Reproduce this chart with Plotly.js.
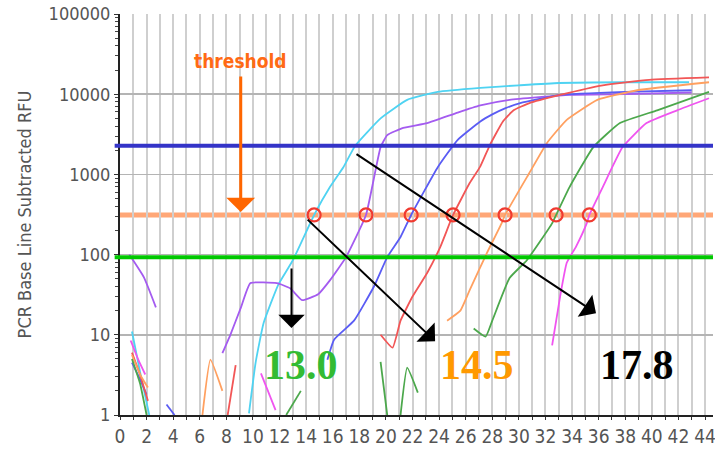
<!DOCTYPE html>
<html>
<head>
<meta charset="utf-8">
<script src="https://cdn.plot.ly/plotly-3.0.1.min.js"></script>
<style>html,body{margin:0;padding:0;background:#fff;}#chart{width:715px;height:457px;}</style>
</head>
<body>
<div id="chart"></div>
<script>
// ---- data (cycles and RFU) ----
var cyanCycles = [0.9, 1.5, 2.2, null, 9.7, 10.2, 10.8, 11.9, 13.0, 14.6, 15.8, 16.8, 17.7, 19.6, 21.6, 23.9, 27.1, 30.0, 33.0, 38.0, 42.8];
var cyanRFU    = [11, 3.5, 1, null, 1.05, 4.5, 14, 42, 85, 312, 700, 1230, 2290, 5000, 8500, 10700, 12000, 12900, 13800, 14100, 14100];

var purpleCycles = [0.7, 1.8, 2.7, null, 7.7, 8.3, 9.1, 9.8, 11.8, 12.8, 13.7, 14.9, 15.8, 17.0, 18.5, 19.6, 20.1, 21.3, 23.1, 25.4, 27.1, 29.3, 33.8, 38.0, 43.0];
var purpleRFU    = [100, 52, 22, null, 5.9, 10, 22, 44, 44, 38, 27, 32, 48, 93, 312, 2190, 3090, 3800, 4360, 5900, 7240, 8500, 9800, 10000, 10500];

var blueCycles = [0.9, 1.5, 2.0, null, 3.5, 4.1, null, 15.6, 16.1, 17.6, 19.1, 20.1, 21.1, 21.9, 23.9, 25.4, 27.1, 28.0, 29.0, 30.1, 33.1, 38.0, 43.0];
var blueRFU    = [4.5, 2.8, 1.8, null, 1.35, 1, null, 4.9, 8.7, 15, 40, 93, 166, 312, 1230, 2700, 4570, 5600, 6700, 7760, 9800, 10700, 11200];

var redCycles = [0.9, 1.5, 2.1, null, 8.1, 8.7, null, 19.6, 20.5, 21.1, 22.0, 23.1, 24.1, 25.05, 26.3, 27.1, 27.8, 28.8, 29.6, 30.8, 33.1, 36.3, 39.8, 44.3];
var redRFU    = [6, 3.2, 1.5, null, 1, 4.2, null, 10, 6.9, 15, 30, 59, 126, 312, 780, 1260, 2290, 4570, 6300, 7760, 9800, 12900, 15100, 16200];

var orangeCycles = [0.9, 1.6, 2.1, null, 6.2, 6.8, 7.7, null, 24.6, 25.6, 26.3, 27.6, 28.7, 28.96, 30.8, 32.1, 33.6, 35.9, 38.9, 44.3];
var orangeRFU    = [5.6, 3.0, 2.2, null, 1, 4.9, 2.0, null, 15, 20, 36, 105, 245, 312, 1050, 2450, 4790, 8500, 11200, 14100];

var greenCycles = [0.9, 1.5, 2.0, null, 12.5, 13.6, null, 19.6, 20.1, null, 21.1, 21.6, 22.4, null, 26.6, 27.5, 28.0, 29.3, 30.6, 32.5, 32.8, 33.8, 35.6, 37.6, 40.4, 44.3];
var greenRFU    = [5.0, 2.5, 1, null, 1, 2.0, null, 4.6, 1, null, 1, 3.9, 1.9, null, 12, 9.5, 15, 51, 85, 245, 312, 690, 2190, 4370, 6300, 10700];

var magentaCycles = [0.8, 1.4, 1.9, null, 10.6, 11.7, null, 32.5, 33.1, 33.6, 34.3, 35.1, 35.3, 36.3, 37.8, 39.6, 41.9, 44.3];
var magentaRFU    = [8.5, 4.8, 3.2, null, 3.3, 1.15, null, 7.4, 30, 79, 126, 245, 312, 690, 2190, 4370, 6300, 8900];

var ctValues = [14.6, 18.5, 21.9, 25.05, 28.96, 32.8, 35.3];
var thresholdRFU = 312;
var upperLineRFU = 2280;
var lowerLineRFU = 93;

var yTickVals = [1, 10, 100, 1000, 10000, 100000];
var yTickText = ['1', '10', '100', '1000', '10000', '100000'];
var labelTexts = ['13.0', '14.5', '17.8'];
var yTitle = 'PCR Base Line Subtracted RFU';
var thresholdLabel = 'threshold';

// minor tick positions on the log axis (2..9 within each decade)
var yMinorVals = [];
for (var d = 0; d < 5; d++) { for (var m = 2; m <= 9; m++) { yMinorVals.push(m * Math.pow(10, d)); } }

// ---- traces ----
function curve(x, y, color) {
  return {x: x, y: y, type: 'scatter', mode: 'lines', connectgaps: false,
          line: {color: color, width: 1.8, shape: 'spline', smoothing: 0.4},
          hoverinfo: 'skip', showlegend: false};
}
var data = [
  curve(cyanCycles, cyanRFU, '#4fd3f2'),
  curve(purpleCycles, purpleRFU, '#a45bf0'),
  curve(blueCycles, blueRFU, '#5a5cf4'),
  curve(redCycles, redRFU, '#f25656'),
  curve(orangeCycles, orangeRFU, '#ffa060'),
  curve(greenCycles, greenRFU, '#4ca84c'),
  curve(magentaCycles, magentaRFU, '#f054f0'),
  {x: ctValues, y: ctValues.map(function(){return thresholdRFU;}), type: 'scatter', mode: 'markers',
   marker: {symbol: 'circle-open', size: 13, color: '#f03a30', line: {width: 2.2, color: '#f03a30'}},
   hoverinfo: 'skip', showlegend: false}
];

var layout = {
  width: 715, height: 457,
  margin: {l: 120, r: 2, t: 14, b: 42},
  paper_bgcolor: '#fff', plot_bgcolor: '#fff',
  xaxis: {
    range: [0, 44.6], tick0: 0, dtick: 2, showgrid: true, gridcolor: '#cfcfcf', gridwidth: 2,
    zeroline: false, showline: true, linecolor: '#222', linewidth: 2,
    ticks: 'outside', ticklen: 3, tickcolor: '#333', ticklabeloverflow: 'allow',
    minor: {dtick: 1, showgrid: true, gridcolor: '#cfcfcf', gridwidth: 2, ticks: 'outside', ticklen: 3, tickcolor: '#333'},
    tickfont: {family: 'Liberation Sans Narrow, DejaVu Sans Condensed, sans-serif', size: 19, color: '#555'}
  },
  yaxis: {
    type: 'log', range: [0, 5], tickvals: yTickVals, ticktext: yTickText,
    showgrid: true, gridcolor: '#b4b4b4', gridwidth: 1.5, zeroline: false,
    showline: true, linecolor: '#222', linewidth: 2, ticks: 'outside', ticklen: 4, tickcolor: '#333',
    minor: {tickvals: yMinorVals, ticks: 'outside', ticklen: 3, tickcolor: '#444', showgrid: false},
    tickfont: {family: 'DejaVu Sans Condensed, sans-serif', size: 18, color: '#555'},
    title: {text: yTitle, standoff: 12, font: {family: 'DejaVu Sans Condensed, sans-serif', size: 18, color: '#555'}}
  },
  shapes: [
    {type: 'line', xref: 'paper', yref: 'y', x0: -0.009, x1: 1, y0: upperLineRFU, y1: upperLineRFU, line: {color: '#3434c8', width: 4}},
    {type: 'line', xref: 'paper', yref: 'y', x0: 0, x1: 1, y0: thresholdRFU, y1: thresholdRFU, line: {color: '#ffa777', width: 5}, layer: 'below'},
    {type: 'line', xref: 'paper', yref: 'y', x0: -0.009, x1: 1, y0: lowerLineRFU, y1: lowerLineRFU, line: {color: '#00c800', width: 4}}
  ],
  annotations: [
    {x: 9.1, y: 4.41, xref: 'x', yref: 'y', text: '<b>' + thresholdLabel + '</b>', showarrow: false,
     font: {family: 'DejaVu Sans Condensed, sans-serif', size: 19, color: '#ff6a14'}},
    {x: 9.08, y: 2.53, xref: 'x', yref: 'y', text: '', showarrow: true, ax: 0, ay: -137,
     arrowcolor: '#ff6600', arrowwidth: 3, arrowhead: 1, arrowsize: 1.6, standoff: 0},
    {x: 12.9, y: 1.085, xref: 'x', yref: 'y', text: '', showarrow: true, ax: 0, ay: -61,
     arrowcolor: '#000', arrowwidth: 2, arrowhead: 1, arrowsize: 2.2, standoff: 0},
    {x: 23.7, y: 0.92, xref: 'x', yref: 'y', text: '', showarrow: true, ax: -129, ay: -123,
     arrowcolor: '#000', arrowwidth: 2, arrowhead: 1, arrowsize: 2.2, standoff: 0},
    {x: 35.8, y: 1.27, xref: 'x', yref: 'y', text: '', showarrow: true, ax: -241, ay: -160,
     arrowcolor: '#000', arrowwidth: 2, arrowhead: 1, arrowsize: 2.2, standoff: 0},
    {x: 13.58, y: 0.62, xref: 'x', yref: 'y', text: '<b>' + labelTexts[0] + '</b>', showarrow: false,
     font: {family: 'Liberation Serif, serif', size: 42, color: '#33bb33'}},
    {x: 26.86, y: 0.62, xref: 'x', yref: 'y', text: '<b>' + labelTexts[1] + '</b>', showarrow: false,
     font: {family: 'Liberation Serif, serif', size: 42, color: '#ff9900'}},
    {x: 38.86, y: 0.62, xref: 'x', yref: 'y', text: '<b>' + labelTexts[2] + '</b>', showarrow: false,
     font: {family: 'Liberation Serif, serif', size: 42, color: '#000'}}
  ]
};

Plotly.newPlot('chart', data, layout, {staticPlot: true, displayModeBar: false});
</script>
</body>
</html>
